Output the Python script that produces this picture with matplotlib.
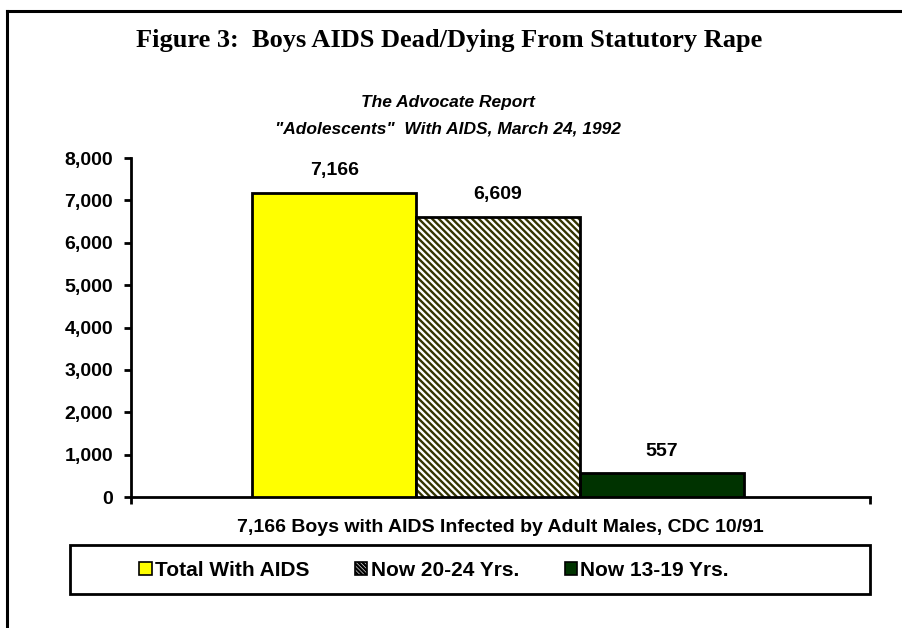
import matplotlib
matplotlib.use("Agg")  # headless
import matplotlib.pyplot as plt
from matplotlib.patches import Patch, Rectangle
from matplotlib.lines import Line2D

# data
series = ["Total With AIDS", "Now 20-24 Yrs.", "Now 13-19 Yrs."]
values = [7166, 6609, 557]
yticks = [0, 1000, 2000, 3000, 4000, 5000, 6000, 7000, 8000]

W, H = 902, 628
fig = plt.figure(figsize=(W / 100, H / 100), dpi=100)
plt.rcParams["hatch.linewidth"] = 1.7

def fx(px):
    return px / W

def fy(py):
    return 1 - py / H

# plot area: left spine ~131px, right end ~870px, zero ~497px, 8,000 ~158px
ax = fig.add_axes([fx(131), fy(497), fx(870) - fx(131), fy(158) - fy(497)])

sans = "Liberation Sans"
serif = "Liberation Serif"

yellow = "#FFFF00"
hatch_col = "#333300"
green = "#003300"

x = [-1, 0, 1]
ax.bar(x[0], values[0], width=1, color=yellow, edgecolor="black", linewidth=2, zorder=3)
# hatched bar: hatch drawn in olive, outline drawn separately in black
ax.bar(x[1], values[1], width=1, facecolor="white", edgecolor=hatch_col, hatch="\\" * 5,
       linewidth=0, zorder=3)
ax.bar(x[1], values[1], width=1, fill=False, edgecolor="black", linewidth=2, zorder=4)
ax.bar(x[2], values[2], width=1, color=green, edgecolor="black", linewidth=2, zorder=3)

for xi, v in zip(x, values):
    ax.annotate(f"{v:,}", (xi, v), xytext=(0, 10), textcoords="offset points",
                ha="center", va="bottom", fontsize=14, fontweight="bold", family=sans)

ax.set_xlim(-2.24, 2.27)
ax.set_ylim(0, 8000)
ax.set_yticks(yticks)
ax.set_yticklabels([f"{t:,}" for t in yticks], fontsize=14, fontweight="bold", family=sans)
ax.set_xticks([-2.24, 2.27])
ax.set_xticklabels(["", ""])
ax.tick_params(axis="both", direction="out", length=5, width=2, color="black")
ax.tick_params(axis="y", pad=8)
ax.spines["top"].set_visible(False)
ax.spines["right"].set_visible(False)
ax.spines["left"].set_linewidth(2)
ax.spines["bottom"].set_linewidth(2)

ax.set_xlabel("7,166 Boys with AIDS Infected by Adult Males, CDC 10/91",
              fontsize=14, fontweight="bold", family=sans, labelpad=7)

# titles
fig.text(fx(449), fy(40), "Figure 3:  Boys AIDS Dead/Dying From Statutory Rape",
         ha="center", va="center", fontsize=19, fontweight="bold", family=serif)
fig.text(fx(448), fy(103), "The Advocate Report", ha="center", va="center",
         fontsize=12.5, fontweight="bold", style="italic", family=sans)
fig.text(fx(448), fy(129), "\"Adolescents\"  With AIDS, March 24, 1992", ha="center",
         va="center", fontsize=12.5, fontweight="bold", style="italic", family=sans)

# legend: entries placed without frame, box drawn separately
handles = [
    Patch(facecolor=yellow, edgecolor="black", linewidth=1.2),
    Patch(facecolor="white", edgecolor="black", hatch="\\" * 8, linewidth=1.2),
    Patch(facecolor=green, edgecolor="black", linewidth=1.2),
]
leg = fig.legend(handles, series, ncol=3, loc="center left",
                 bbox_to_anchor=(fx(139), fy(570)), frameon=False, borderpad=0,
                 borderaxespad=0, handlelength=0.6, handleheight=0.6,
                 handletextpad=0.15, columnspacing=2.2,
                 prop={"family": sans, "weight": "bold", "size": 15})
fig.add_artist(Rectangle((fx(70), fy(594)), fx(870) - fx(70), fy(545) - fy(594),
                         transform=fig.transFigure, fill=False, edgecolor="black",
                         linewidth=2))

# page border on the left and top
fig.add_artist(Line2D([fx(7), fx(7)], [0, fy(11)], color="black", linewidth=2.2,
                      transform=fig.transFigure))
fig.add_artist(Line2D([fx(7), 1], [fy(11), fy(11)], color="black", linewidth=2.2,
                      transform=fig.transFigure))

fig.savefig("out.png", dpi=100)
